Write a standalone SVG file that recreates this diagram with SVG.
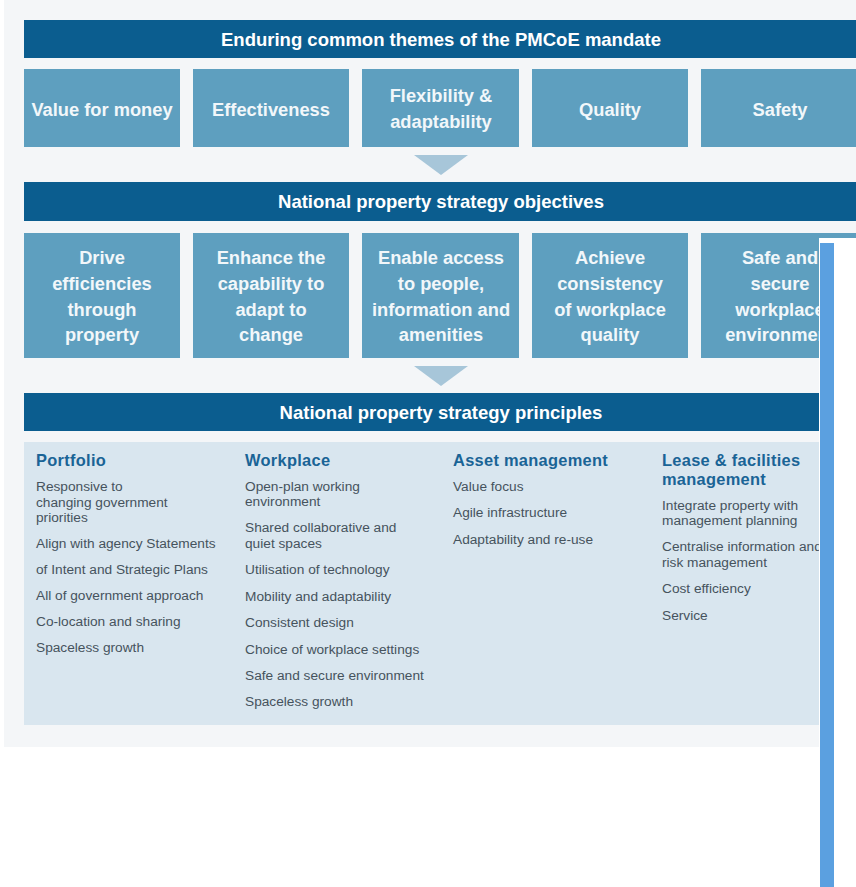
<svg xmlns="http://www.w3.org/2000/svg" width="856" height="887" viewBox="0 0 856 887">
  <style>
    .banner { fill: #0b5d8f; }
    .banner-text { font-family: "Liberation Sans", Arial, sans-serif; font-weight: bold; font-size: 18.5px; fill: #ffffff; text-anchor: middle; }
    .box { fill: #5e9fbf; }
    .box-text { font-family: "Liberation Sans", Arial, sans-serif; font-weight: bold; font-size: 18.3px; fill: #f2f7fa; text-anchor: middle; }
    .arrow { fill: #a7c6d9; }
    .col-head { font-family: "Liberation Sans", Arial, sans-serif; font-weight: bold; font-size: 16.4px; letter-spacing: 0.3px; fill: #1a6496; }
    .item { font-family: "Liberation Sans", Arial, sans-serif; font-size: 13.7px; fill: #46535d; }
  </style>

  <!-- page backgrounds -->
  <rect x="0" y="0" width="856" height="887" fill="#ffffff"/>
  <rect x="4" y="0" width="852" height="747" fill="#f4f6f8"/>

  <!-- tier 1: mandate themes -->
  <g id="banner-themes">
    <rect class="banner" x="24" y="20" width="832" height="38"/>
    <text class="banner-text" x="441" y="46">Enduring common themes of the PMCoE mandate</text>
  </g>
  <g id="theme-value">
    <rect class="box" x="24" y="69" width="156" height="78"/>
    <text class="box-text" x="102" y="116">Value for money</text>
  </g>
  <g id="theme-effectiveness">
    <rect class="box" x="193" y="69" width="156" height="78"/>
    <text class="box-text" x="271" y="116">Effectiveness</text>
  </g>
  <g id="theme-flexibility">
    <rect class="box" x="362" y="69" width="157" height="78"/>
    <text class="box-text" x="441" y="102">Flexibility &amp;</text>
    <text class="box-text" x="441" y="128">adaptability</text>
  </g>
  <g id="theme-quality">
    <rect class="box" x="532" y="69" width="156" height="78"/>
    <text class="box-text" x="610" y="116">Quality</text>
  </g>
  <g id="theme-safety">
    <rect class="box" x="701" y="69" width="155" height="78"/>
    <text class="box-text" x="780" y="116">Safety</text>
  </g>

  <!-- tier 2: objectives -->
  <g id="banner-objectives">
    <rect class="banner" x="24" y="182" width="832" height="39"/>
    <text class="banner-text" x="441" y="208">National property strategy objectives</text>
  </g>
  <g id="obj-efficiencies">
    <rect class="box" x="24" y="233" width="156" height="125"/>
    <text class="box-text" x="102" y="264">Drive</text>
    <text class="box-text" x="102" y="290">efficiencies</text>
    <text class="box-text" x="102" y="316">through</text>
    <text class="box-text" x="102" y="341">property</text>
  </g>
  <g id="obj-capability">
    <rect class="box" x="193" y="233" width="156" height="125"/>
    <text class="box-text" x="271" y="264">Enhance the</text>
    <text class="box-text" x="271" y="290">capability to</text>
    <text class="box-text" x="271" y="316">adapt to</text>
    <text class="box-text" x="271" y="341">change</text>
  </g>
  <g id="obj-access">
    <rect class="box" x="362" y="233" width="157" height="125"/>
    <text class="box-text" x="441" y="264">Enable access</text>
    <text class="box-text" x="441" y="290">to people,</text>
    <text class="box-text" x="441" y="316">information and</text>
    <text class="box-text" x="441" y="341">amenities</text>
  </g>
  <g id="obj-consistency">
    <rect class="box" x="532" y="233" width="156" height="125"/>
    <text class="box-text" x="610" y="264">Achieve</text>
    <text class="box-text" x="610" y="290">consistency</text>
    <text class="box-text" x="610" y="316">of workplace</text>
    <text class="box-text" x="610" y="341">quality</text>
  </g>
  <g id="obj-safe">
    <rect class="box" x="701" y="233" width="155" height="125"/>
    <text class="box-text" x="780" y="264">Safe and</text>
    <text class="box-text" x="780" y="290">secure</text>
    <text class="box-text" x="780" y="316">workplace</text>
    <text class="box-text" x="780" y="341">environment</text>
  </g>

  <!-- flow arrows between tiers -->
  <g id="connectors">
    <polygon class="arrow" points="414,155 468,155 441,175"/>
    <polygon class="arrow" points="414,366 468,366 441,386"/>
  </g>

  <!-- tier 3: principles -->
  <g id="banner-principles">
    <rect class="banner" x="24" y="393" width="832" height="38"/>
    <text class="banner-text" x="441" y="419">National property strategy principles</text>
  </g>
  <rect x="24" y="442" width="832" height="283" fill="#d9e6ef"/>

  <g id="col-portfolio">
    <text class="col-head" x="36" y="466">Portfolio</text>
    <text class="item" x="36" y="491">Responsive to</text>
    <text class="item" x="36" y="507">changing government</text>
    <text class="item" x="36" y="522">priorities</text>
    <text class="item" x="36" y="548">Align with agency Statements</text>
    <text class="item" x="36" y="574">of Intent and Strategic Plans</text>
    <text class="item" x="36" y="600">All of government approach</text>
    <text class="item" x="36" y="626">Co-location and sharing</text>
    <text class="item" x="36" y="652">Spaceless growth</text>
  </g>
  <g id="col-workplace">
    <text class="col-head" x="245" y="466">Workplace</text>
    <text class="item" x="245" y="491">Open-plan working</text>
    <text class="item" x="245" y="506">environment</text>
    <text class="item" x="245" y="532">Shared collaborative and</text>
    <text class="item" x="245" y="548">quiet spaces</text>
    <text class="item" x="245" y="574">Utilisation of technology</text>
    <text class="item" x="245" y="601">Mobility and adaptability</text>
    <text class="item" x="245" y="627">Consistent design</text>
    <text class="item" x="245" y="654">Choice of workplace settings</text>
    <text class="item" x="245" y="680">Safe and secure environment</text>
    <text class="item" x="245" y="706">Spaceless growth</text>
  </g>
  <g id="col-asset">
    <text class="col-head" x="453" y="466">Asset management</text>
    <text class="item" x="453" y="491">Value focus</text>
    <text class="item" x="453" y="517">Agile infrastructure</text>
    <text class="item" x="453" y="544">Adaptability and re-use</text>
  </g>
  <g id="col-lease">
    <text class="col-head" x="662" y="466">Lease &amp; facilities</text>
    <text class="col-head" x="662" y="485">management</text>
    <text class="item" x="662" y="510">Integrate property with</text>
    <text class="item" x="662" y="525">management planning</text>
    <text class="item" x="662" y="551">Centralise information and</text>
    <text class="item" x="662" y="567">risk management</text>
    <text class="item" x="662" y="593">Cost efficiency</text>
    <text class="item" x="662" y="620">Service</text>
  </g>

  <!-- overlapping side panel on the right edge -->
  <g id="side-panel">
    <rect x="819" y="238" width="37" height="649" fill="#ffffff"/>
    <rect x="820" y="243" width="14" height="644" fill="#5ba0e0"/>
  </g>
</svg>
